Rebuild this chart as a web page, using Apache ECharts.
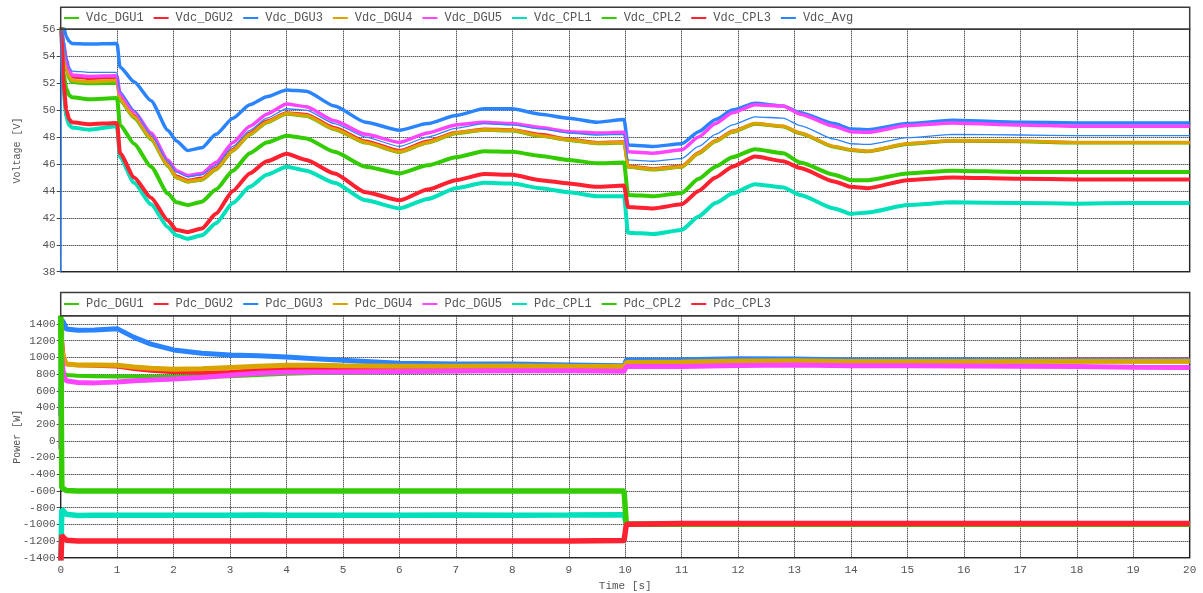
<!DOCTYPE html>
<html>
<head>
<meta charset="utf-8">
<script src="https://cdn.jsdelivr.net/npm/echarts@6/dist/echarts.min.js"></script>
<style>
html,body{margin:0;padding:0;background:#fff;}
#chart{width:1203px;height:593px;}
</style>
</head>
<body>
<div id="chart"></div>
<script>
// ---------- Voltage panel ----------
const tV = [0,0.01,0.05,0.1,0.15,0.2,0.5,0.98,1.0,1.05,1.3,1.6,1.9,2.05,2.25,2.5,2.75,3.05,3.35,3.65,4.0,4.35,4.85,5.4,6.0,6.5,7.0,7.5,8.0,8.5,9.0,9.5,9.98,10.05,10.5,11.0,11.3,11.6,11.9,12.3,12.8,13.1,13.7,14.0,14.3,15.0,15.8,17.0,18.0,19.0,20.0];

const Vdc_DGU1 = [57,57,54.0,52.9,52.3,52.05,51.95,52.0,51.95,50.7,49.4,47.8,45.8,44.95,44.65,44.8,45.55,46.95,48.15,49.05,49.7,49.55,48.55,47.55,46.85,47.55,48.25,48.5,48.45,48.05,47.75,47.5,47.55,45.75,45.55,45.75,46.75,47.65,48.35,48.95,48.75,48.25,47.25,47.0,46.9,47.45,47.7,47.65,47.55,47.55,47.55];
const Vdc_DGU2 = [57,57,54.8,53.5,52.8,52.45,52.35,52.4,52.35,51.0,49.6,48.0,46.0,45.1,44.8,44.95,45.7,47.1,48.3,49.2,49.8,49.7,48.7,47.7,47.0,47.7,48.35,48.6,48.55,48.2,47.85,47.6,47.65,45.85,45.65,45.85,46.85,47.75,48.45,49.0,48.8,48.3,47.3,47.05,46.95,47.5,47.75,47.7,47.6,47.6,47.6];
const Vdc_DGU3 = [57,57,56.2,55.45,55.1,54.95,54.9,54.95,54.9,53.2,52.1,50.7,48.5,47.7,47.0,47.2,48.2,49.4,50.4,51.0,51.5,51.4,50.3,49.1,48.5,49.0,49.6,50.1,50.1,49.7,49.4,49.1,49.3,47.4,47.3,47.5,48.4,49.3,50.0,50.5,50.3,49.8,49.0,48.6,48.55,49.0,49.25,49.1,49.05,49.05,49.05];
const Vdc_DGU4 = [57,57,54.5,53.2,52.5,52.2,52.1,52.2,52.1,50.8,49.5,47.9,45.9,45.0,44.7,44.85,45.6,47.0,48.2,49.1,49.75,49.6,48.6,47.6,46.9,47.6,48.3,48.55,48.5,48.1,47.8,47.55,47.6,45.8,45.6,45.8,46.8,47.7,48.4,49.0,48.8,48.3,47.3,47.05,46.95,47.5,47.75,47.7,47.6,47.6,47.6];
const Vdc_DGU5 = [57,57,55.0,53.8,53.0,52.6,52.5,52.55,52.5,51.2,49.9,48.3,46.3,45.5,45.15,45.3,46.1,47.6,48.8,49.7,50.45,50.25,49.2,48.2,47.6,48.3,48.9,49.1,49.0,48.7,48.4,48.3,48.35,46.9,46.8,47.05,48.0,49.0,49.8,50.4,50.3,49.7,48.8,48.4,48.35,48.85,49.05,48.9,48.8,48.8,48.8];
const Vdc_CPL1 = [57,56,51.5,49.5,48.9,48.7,48.55,48.8,48.7,46.5,44.6,43.0,41.3,40.7,40.45,40.7,41.6,43.1,44.3,45.2,45.8,45.5,44.6,43.3,42.7,43.4,44.2,44.6,44.55,44.2,43.9,43.6,43.6,40.9,40.8,41.1,42.1,43.1,43.8,44.5,44.25,43.7,42.7,42.3,42.4,42.95,43.15,43.1,43.05,43.1,43.1];
const Vdc_CPL2 = [57,56.5,52.7,51.6,51.1,50.95,50.8,50.9,50.85,48.9,47.5,45.8,43.8,43.15,42.95,43.2,44.1,45.5,46.8,47.6,48.1,47.9,46.9,45.8,45.3,45.9,46.5,46.95,46.9,46.6,46.3,46.05,46.1,43.7,43.6,43.85,44.9,45.8,46.5,47.1,46.8,46.1,45.2,44.8,44.8,45.3,45.5,45.4,45.4,45.4,45.4];
const Vdc_CPL3 = [57,56,52.0,50.0,49.3,49.1,48.95,49.05,49.0,46.8,45.0,43.5,41.8,41.1,40.95,41.2,42.3,44.0,45.3,46.2,46.75,46.3,45.3,43.9,43.3,44.1,44.8,45.25,45.2,44.8,44.55,44.3,44.4,42.8,42.7,43.0,44.0,45.0,45.8,46.55,46.2,45.7,44.7,44.3,44.2,44.8,45.0,44.9,44.85,44.85,44.85];
const Vdc_Avg  = [36,57,55.5,54.0,53.2,52.9,52.8,52.8,52.75,51.4,50.0,48.2,46.2,45.4,45.05,45.2,45.9,47.3,48.5,49.4,50.1,50.0,49.0,48.0,47.3,48.0,48.65,49.0,48.9,48.6,48.3,48.15,48.2,46.3,46.2,46.4,47.3,48.2,48.9,49.5,49.4,48.85,47.85,47.5,47.45,47.95,48.2,48.15,48.1,48.1,48.1];

// ---------- Power panel ----------
const tP = [0,0.02,0.05,0.1,0.3,0.6,1.0,1.3,1.6,2.0,2.5,3.0,3.5,4.0,4.5,5.0,6.0,7.0,8.0,9.0,9.98,10.02,11.0,12.0,13.0,14.0,15.0,16.0,17.0,18.0,19.0,20.0];

const Pdc_DGU1 = [600,1000,820,790,780,775,772,770,768,768,770,775,790,805,812,815,825,835,840,845,850,930,935,945,950,945,945,950,950,950,950,950];
const Pdc_DGU2 = [1100,1250,1000,920,905,900,890,860,840,822,815,825,850,870,870,865,865,875,880,880,880,940,945,955,960,955,960,965,970,975,975,975];
const Pdc_DGU3 = [300,1450,1420,1340,1325,1330,1345,1240,1160,1090,1050,1030,1020,1005,985,965,930,922,920,910,900,970,972,985,980,970,970,970,965,965,965,965];
const Pdc_DGU4 = [1500,1100,1000,920,910,910,905,885,870,858,865,880,895,905,905,900,893,893,898,893,890,940,945,958,960,952,952,952,955,955,955,955];
const Pdc_DGU5 = [-100,1000,780,720,700,695,705,720,730,742,760,785,810,822,825,825,832,838,840,840,835,890,892,902,910,900,900,898,895,890,882,880];
const Pdc_CPL1 = [-1450,-820,-830,-880,-895,-890,-892,-890,-890,-890,-890,-890,-888,-890,-890,-890,-890,-888,-890,-888,-885,-995,-1000,-1000,-1000,-1000,-1000,-1000,-1000,-1000,-1000,-1000];
const Pdc_CPL2 = [1500,-560,-580,-595,-600,-600,-600,-600,-600,-600,-600,-600,-600,-600,-600,-600,-600,-600,-600,-600,-600,-1000,-1000,-1000,-1000,-1000,-1000,-1000,-1000,-1000,-1000,-1000];
const Pdc_CPL3 = [-1500,-1130,-1160,-1190,-1200,-1200,-1200,-1200,-1200,-1200,-1200,-1200,-1200,-1200,-1200,-1200,-1200,-1200,-1200,-1200,-1195,-1000,-990,-990,-990,-990,-990,-990,-990,-990,-990,-990];

const xTicks = [0,1,2,3,4,5,6,7,8,9,10,11,12,13,14,15,16,17,18,19,20];

const C = {green:'#33cc00', red:'#ff2030', blue:'#2a84ff', gold:'#d9a400', mag:'#ff44ff', cyan:'#00e0bb'};

const vSeries = [
  ['Vdc_DGU1', Vdc_DGU1, C.green, 3],
  ['Vdc_DGU2', Vdc_DGU2, C.red, 3],
  ['Vdc_DGU3', Vdc_DGU3, C.blue, 3.5],
  ['Vdc_DGU4', Vdc_DGU4, C.gold, 3.5],
  ['Vdc_DGU5', Vdc_DGU5, C.mag, 3.5],
  ['Vdc_CPL1', Vdc_CPL1, C.cyan, 4],
  ['Vdc_CPL2', Vdc_CPL2, C.green, 4],
  ['Vdc_CPL3', Vdc_CPL3, C.red, 4],
  ['Vdc_Avg',  Vdc_Avg,  C.blue, 1.3]
];
const pSeries = [
  ['Pdc_DGU1', Pdc_DGU1, C.green, 4],
  ['Pdc_DGU2', Pdc_DGU2, C.red, 4],
  ['Pdc_DGU3', Pdc_DGU3, C.blue, 5],
  ['Pdc_DGU4', Pdc_DGU4, C.gold, 5],
  ['Pdc_DGU5', Pdc_DGU5, C.mag, 5],
  ['Pdc_CPL1', Pdc_CPL1, C.cyan, 5.5],
  ['Pdc_CPL2', Pdc_CPL2, C.green, 5.5],
  ['Pdc_CPL3', Pdc_CPL3, C.red, 5.5]
];

const FONT = 'Liberation Mono';
const L = 60.7, R = 1203 - 1189.7;

function mk(list, t, idx) {
  return list.map(([name, vals, color, w]) => ({
    name, type: 'line', xAxisIndex: idx, yAxisIndex: idx,
    data: t.map((x, i) => [x, vals[i]]),
    showSymbol: false, symbol: 'none', color,
    smooth: idx === 0 ? 0.2 : 0, smoothMonotone: 'x',
    lineStyle: {color, width: w}, clip: true, silent: true, animation: false
  }));
}

const gridLine = {show: true, lineStyle: {color: '#111', width: 1, type: [1, 1]}};

function xAx(idx, labels) {
  return {
    type: 'value', gridIndex: idx, min: 0, max: 20, interval: 1,
    axisLine: {show: false}, axisTick: {show: false},
    splitLine: gridLine,
    axisLabel: {show: labels, color: '#555', fontFamily: FONT, fontSize: 11, margin: 7,
      formatter: v => xTicks.indexOf(v) >= 0 ? String(v) : ''},
    name: labels ? 'Time [s]' : '', nameLocation: 'middle', nameGap: 23, nameMoveOverlap: false,
    nameTextStyle: {color: '#555', fontFamily: FONT, fontSize: 11}
  };
}
function yAx(idx, min, max, interval, name) {
  return {
    type: 'value', gridIndex: idx, min, max, interval,
    axisLine: {show: false},
    axisTick: {show: true, length: 4, lineStyle: {color: '#444'}},
    splitLine: gridLine,
    axisLabel: {color: '#555', fontFamily: FONT, fontSize: 11, margin: 5, showMaxLabel: idx === 0,
      formatter: v => String(v)},
    name, nameLocation: 'middle', nameGap: 38, nameRotate: 90, nameMoveOverlap: false,
    nameTextStyle: {color: '#555', fontFamily: FONT, fontSize: 10}
  };
}

const legendBase = {
  icon: 'rect', itemWidth: 15, itemHeight: 2, itemGap: 10, left: 64,
  textStyle: {color: '#555', fontFamily: FONT, fontSize: 12, padding: [0, 0, 0, 2]},
  selectedMode: false, padding: 0
};

const chart = echarts.init(document.getElementById('chart'), null, {renderer: 'canvas'});
chart.setOption({
  backgroundColor: '#fff',
  animation: false,
  grid: [
    {left: L, right: R, top: 29.3, height: 242.4, show: true, borderColor: '#3a3a3a', borderWidth: 1.5, backgroundColor: '#fff', containLabel: false, outerBoundsMode: 'none'},
    {left: L, right: R, top: 315.7, height: 242, show: true, borderColor: '#3a3a3a', borderWidth: 1.5, backgroundColor: '#fff', containLabel: false, outerBoundsMode: 'none'}
  ],
  xAxis: [xAx(0, false), xAx(1, true)],
  yAxis: [yAx(0, 38, 56, 2, 'Voltage [V]'), yAx(1, -1400, 1500, 200, 'Power [W]')],
  legend: [
    Object.assign({}, legendBase, {top: 12, data: vSeries.map(s => s[0])}),
    Object.assign({}, legendBase, {top: 298, data: pSeries.map(s => s[0])})
  ],
  graphic: [
    {type: 'rect', z: 100, shape: {x: L, y: 7.3, width: 1189.7 - L, height: 22}, style: {fill: 'none', stroke: '#3a3a3a', lineWidth: 1.5}},
    {type: 'rect', z: 100, shape: {x: L, y: 292.5, width: 1189.7 - L, height: 23.2}, style: {fill: 'none', stroke: '#3a3a3a', lineWidth: 1.5}}
  ],
  series: mk(vSeries, tV, 0).concat(mk(pSeries, tP, 1))
});
</script>
</body>
</html>
